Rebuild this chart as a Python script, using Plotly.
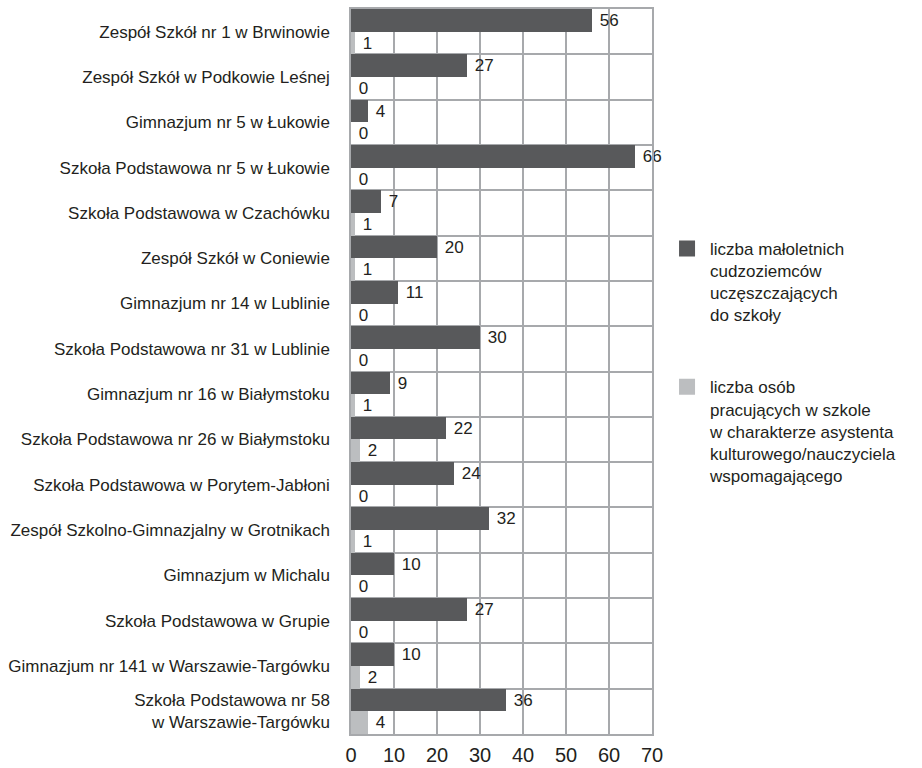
import plotly.graph_objects as go

categories = [
    "Zespół Szkół nr 1 w Brwinowie",
    "Zespół Szkół w Podkowie Leśnej",
    "Gimnazjum nr 5 w Łukowie",
    "Szkoła Podstawowa nr 5 w Łukowie",
    "Szkoła Podstawowa w Czachówku",
    "Zespół Szkół w Coniewie",
    "Gimnazjum nr 14 w Lublinie",
    "Szkoła Podstawowa nr 31 w Lublinie",
    "Gimnazjum nr 16 w Białymstoku",
    "Szkoła Podstawowa nr 26 w Białymstoku",
    "Szkoła Podstawowa w Porytem-Jabłoni",
    "Zespół Szkolno-Gimnazjalny w Grotnikach",
    "Gimnazjum w Michalu",
    "Szkoła Podstawowa w Grupie",
    "Gimnazjum nr 141 w Warszawie-Targówku",
    "Szkoła Podstawowa nr 58<br>w Warszawie-Targówku",
]
students = [56, 27, 4, 66, 7, 20, 11, 30, 9, 22, 24, 32, 10, 27, 10, 36]
assistants = [1, 0, 0, 0, 1, 1, 0, 0, 1, 2, 0, 1, 0, 0, 2, 4]

name_students = "liczba małoletnich<br>cudzoziemców<br>uczęszczających<br>do szkoły"
name_assist = "liczba osób<br>pracujących w szkole<br>w charakterze asystenta<br>kulturowego/nauczyciela<br>wspomagającego"

x_ticks = [0, 10, 20, 30, 40, 50, 60, 70]

FONT = "Liberation Sans, Arial, sans-serif"
TXT = "#231f20"
DARK = "#58595b"
LIGHT = "#bcbec0"

fig = go.Figure()
fig.add_trace(go.Bar(
    y=categories, x=students, orientation="h", name=name_students,
    showlegend=False,
    marker=dict(color=DARK, line=dict(width=0)),
    text=students, texttemplate="\u00a0%{text}", textposition="outside",
    textangle=0, constraintext="none",
    textfont=dict(family=FONT, size=17, color=TXT), cliponaxis=False,
))
fig.add_trace(go.Bar(
    y=categories, x=assistants, orientation="h", name=name_assist,
    showlegend=False,
    marker=dict(color=LIGHT, line=dict(width=0)),
    text=assistants, texttemplate="\u00a0%{text}", textposition="outside",
    textangle=0, constraintext="none",
    textfont=dict(family=FONT, size=17, color=TXT), cliponaxis=False,
))
# legend-only entries with larger square swatches
for nm, col, grp in [(name_students, DARK, "a"), (name_assist, LIGHT, "b")]:
    fig.add_trace(go.Scatter(
        x=[None], y=[None], mode="markers", name=nm, legendgroup=grp,
        marker=dict(symbol="square", size=17, color=col, line=dict(width=0)),
        showlegend=True,
    ))

fig.update_layout(
    width=922, height=768,
    margin=dict(l=351, r=270, t=9, b=34),
    barmode="group", bargap=0, bargroupgap=0,
    plot_bgcolor="white", paper_bgcolor="white",
    font=dict(family=FONT, color=TXT, size=17),
    showlegend=True,
    legend=dict(
        x=1.04, y=0.694, xanchor="left", yanchor="top",
        font=dict(family=FONT, size=17, color=TXT),
        tracegroupgap=47, itemwidth=36, valign="top", itemsizing="trace",
        bgcolor="rgba(0,0,0,0)",
    ),
    xaxis=dict(
        range=[0, 70], tickvals=x_ticks, ticktext=[str(v) for v in x_ticks],
        showgrid=True, gridcolor="#a7a9ac", gridwidth=1.5,
        showline=True, linecolor="#a7a9ac", linewidth=1.5, mirror=True,
        zeroline=False, ticks="", ticklabelstandoff=2, automargin=False,
        tickfont=dict(family=FONT, size=20, color=TXT),
    ),
    yaxis=dict(
        autorange="reversed", tickson="boundaries", automargin=False,
        showgrid=True, gridcolor="#a7a9ac", gridwidth=1.5,
        showline=True, linecolor="#a7a9ac", linewidth=1.5, mirror=True,
        ticks="", ticklabelstandoff=16,
        tickfont=dict(family=FONT, size=17, color=TXT),
    ),
)

fig.write_html("out.html")
